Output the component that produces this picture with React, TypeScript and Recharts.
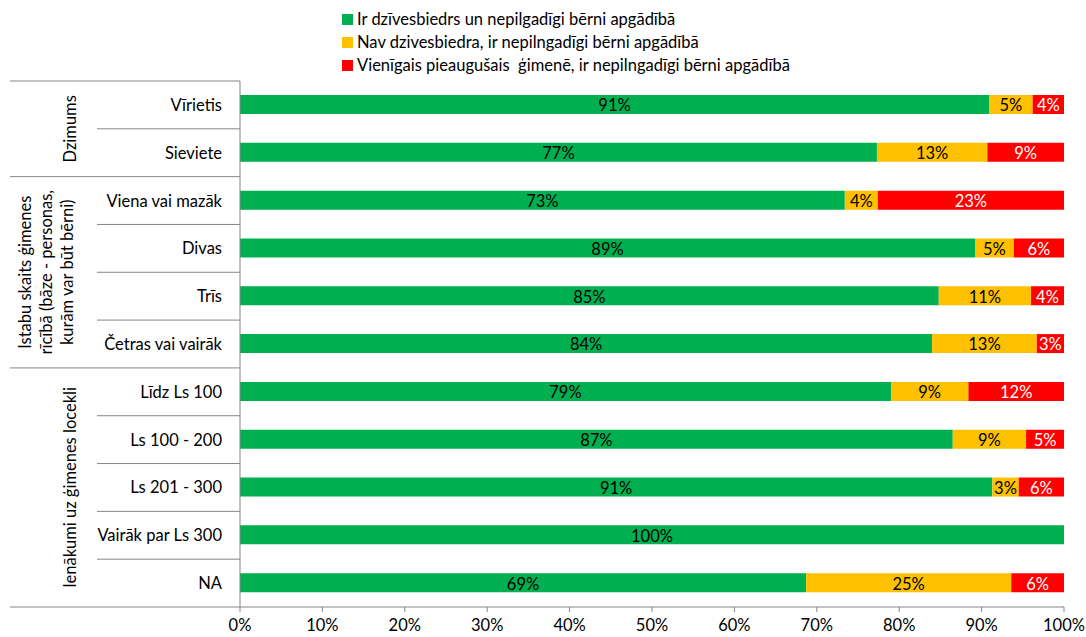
import { BarChart, Bar, XAxis, YAxis, Legend, LabelList } from "recharts";

const CATEGORIES = [
  "Vīrietis",
  "Sieviete",
  "Viena vai mazāk",
  "Divas",
  "Trīs",
  "Četras vai vairāk",
  "Līdz Ls 100",
  "Ls 100 - 200",
  "Ls 201 - 300",
  "Vairāk par Ls 300",
  "NA",
];

const PARTNER_KIDS = [90.9, 77.3, 73.4, 89.2, 84.8, 84.0, 79.0, 86.5, 91.3, 100, 68.7];
const NO_PARTNER_KIDS = [5.3, 13.4, 4.0, 4.7, 11.2, 12.7, 9.4, 8.9, 3.2, 0, 24.9];
const SINGLE_ADULT_KIDS = [3.8, 9.3, 22.6, 6.1, 4.0, 3.3, 11.6, 4.6, 5.5, 0, 6.4];

const GROUPS = [
  { lines: ["Dzimums"], size: 2 },
  { lines: ["Istabu skaits  ģimenes", "rīcībā (bāze - personas,", "kurām var būt bērni)"], size: 4 },
  { lines: ["Ienākumi uz ģimenes locekli"], size: 5 },
];

const SERIES = [
  { key: "a", name: "Ir dzīvesbiedrs un nepilgadīgi bērni apgādībā", color: "#00B050", text: "#000" },
  { key: "b", name: "Nav dzivesbiedra, ir nepilngadīgi bērni apgādībā", color: "#FFC000", text: "#000" },
  { key: "c", name: "Vienīgais pieaugušais  ģimenē, ir nepilngadīgi bērni apgādībā", color: "#FF0000", text: "#fff" },
];

const X_TICKS = [0, 10, 20, 30, 40, 50, 60, 70, 80, 90, 100];

const W = 1086;
const H = 637;
const TOP = 81;
const BOTTOM = 30;
const AXIS_X = 240;
const BAND = (H - TOP - BOTTOM) / CATEGORIES.length;
const FONT = "Lato, 'Open Sans', sans-serif";
const FS = 16.5;

const data = CATEGORIES.map((name, i) => ({
  name,
  a: PARTNER_KIDS[i],
  b: NO_PARTNER_KIDS[i],
  c: SINGLE_ADULT_KIDS[i],
}));

// which group starts / ends at each row
const groupStart: Record<number, number> = {};
const groupEnd: Record<number, boolean> = {};
{
  let idx = 0;
  GROUPS.forEach((g, gi) => {
    groupStart[idx] = gi;
    idx += g.size;
    groupEnd[idx - 1] = true;
  });
}

function CategoryTick(props: any) {
  const { y, payload } = props;
  const i = payload.index;
  const gi = groupStart[i];
  const g = gi !== undefined ? GROUPS[gi] : null;
  const lineColor = "#868686";
  return (
    <g>
      <text x={AXIS_X - 18} y={y + 6} textAnchor="end" fontSize={FS} fill="#000" fontFamily={FONT}>
        {payload.value}
      </text>
      {i === 0 && <line x1={10} x2={AXIS_X} y1={y - BAND / 2} y2={y - BAND / 2} stroke={lineColor} />}
      <line
        x1={groupEnd[i] ? 10 : 97}
        x2={AXIS_X}
        y1={y + BAND / 2}
        y2={y + BAND / 2}
        stroke={lineColor}
      />
      {g && (
        <text
          transform={`translate(${g.lines.length > 1 ? 46 : 70}, ${y - BAND / 2 + (g.size * BAND) / 2}) rotate(-90)`}
          textAnchor="middle"
          fontSize={FS}
          fill="#000"
          fontFamily={FONT}
        >
          {g.lines.map((l, k) => (
            <tspan key={k} x={0} y={(k - (g.lines.length - 1) / 2) * 21 + 6}>
              {l}
            </tspan>
          ))}
        </text>
      )}
    </g>
  );
}

function LegendBox() {
  return (
    <div style={{ fontFamily: FONT, fontSize: FS, lineHeight: "23px", color: "#000" }}>
      {SERIES.map((s) => (
        <div key={s.key} style={{ display: "flex", alignItems: "center", whiteSpace: "pre" }}>
          <span style={{ width: 11, height: 11, background: s.color, marginRight: 4, display: "inline-block" }} />
          {s.name}
        </div>
      ))}
    </div>
  );
}

const pct = (v: any) => (v > 0 ? `${Math.round(v)}%` : "");

export default function App() {
  return (
    <div style={{ position: "absolute", left: 0, top: 0, width: W, height: H, background: "#fff" }}>
      <BarChart
        width={W}
        height={H}
        data={data}
        layout="vertical"
        barSize={19}
        margin={{ top: TOP, right: 22, bottom: 0, left: 0 }}
      >
        <XAxis
          type="number"
          domain={[0, 100]}
          ticks={X_TICKS}
          tickFormatter={(v) => `${v}%`}
          axisLine={{ stroke: "#868686" }}
          tickLine={{ stroke: "#868686" }}
          tickSize={5}
          tickMargin={7}
          height={BOTTOM}
          interval={0}
          tick={{ fontSize: FS, fill: "#000", fontFamily: FONT }}
          allowDataOverflow
        />
        <YAxis
          type="category"
          dataKey="name"
          width={AXIS_X}
          axisLine={{ stroke: "#868686" }}
          tickLine={false}
          interval={0}
          tick={<CategoryTick />}
        />
        <Legend
          layout="vertical"
          verticalAlign="middle"
          align="center"
          wrapperStyle={{ top: 8, left: 342, width: "auto" }}
          content={() => <LegendBox />}
        />
        {SERIES.map((s) => (
          <Bar key={s.key} dataKey={s.key} name={s.name} stackId="x" fill={s.color} isAnimationActive={false}>
            <LabelList
              dataKey={s.key}
              position="center"
              formatter={pct}
              fill={s.text}
              fontSize={FS}
              fontFamily={FONT}
              dy={1}
            />
          </Bar>
        ))}
      </BarChart>
    </div>
  );
}
